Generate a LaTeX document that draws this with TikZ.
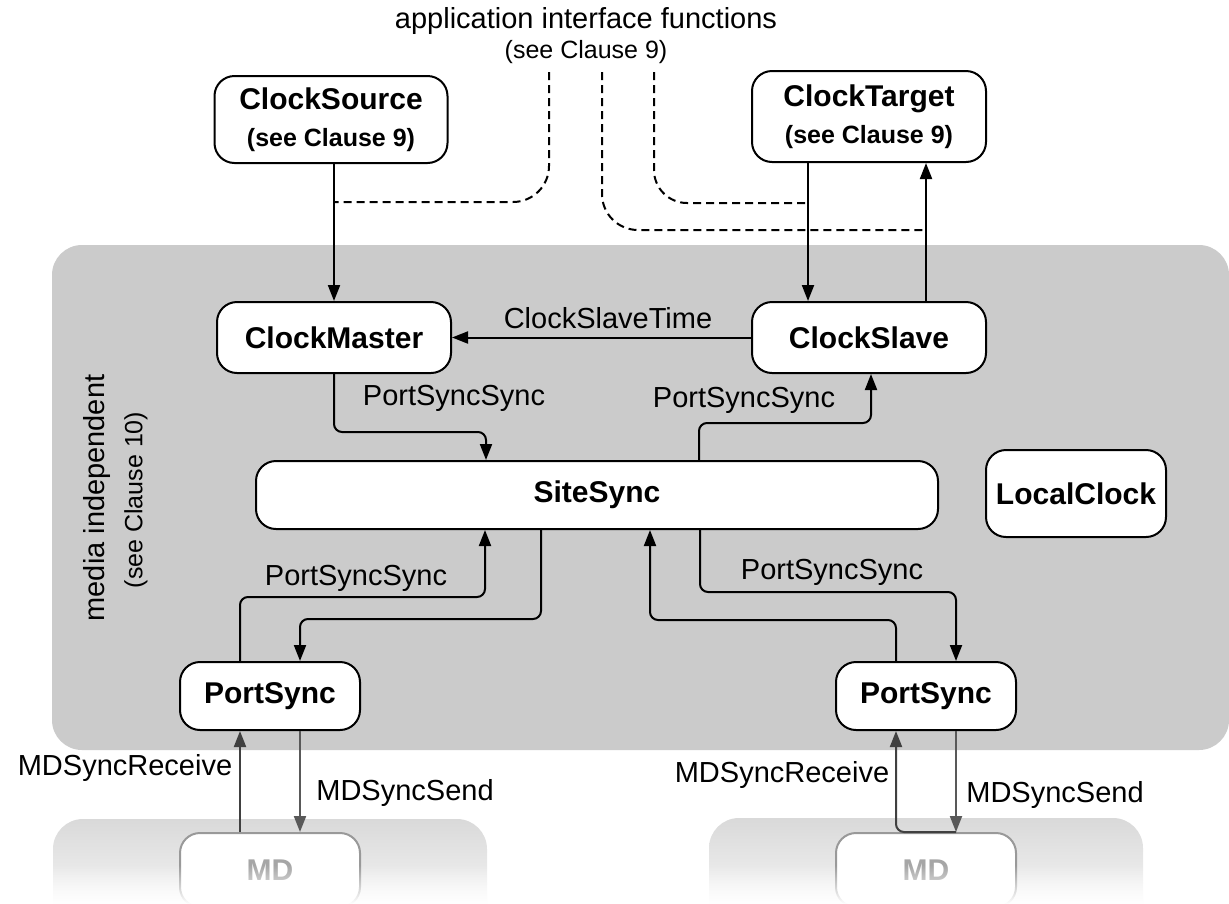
\documentclass[tikz,border=0pt]{standalone}
\usepackage{fontspec}
\setmainfont{Liberation Sans}
\usetikzlibrary{arrows.meta,fadings}
\definecolor{bggray}{RGB}{203,203,203}
\definecolor{mdgray}{RGB}{217,217,217}
\newcommand\fnorm{\fontsize{29}{34}\selectfont}
\newcommand\fsmall{\fontsize{25}{30}\selectfont}
\newcommand\fbold{\fontsize{30}{37}\selectfont\bfseries}
\newcommand\fsbold{\fontsize{25}{37}\selectfont\bfseries}
\tikzset{
  box/.style={draw=black, line width=2pt, fill=white, rounded corners=20pt,
    align=center, inner sep=0pt, font=\fbold},
  mdbox/.style={draw=black!40, line width=2pt, fill=white, rounded corners=20pt,
    inner sep=0pt, font=\fbold, text=black!35},
  tip/.style={-{Triangle[length=16pt,width=12pt]}},
  con/.style={line width=2pt, rounded corners=8pt, tip},
  mdcon/.style={line width=2pt, rounded corners=8pt, tip, draw=black!75},
  dashcon/.style={line width=2pt, dash pattern=on 8pt off 5pt, rounded corners=36pt},
  lbl/.style={font=\fnorm, inner sep=0pt},
}
\begin{document}
\begin{tikzpicture}[x=1pt,y=-1pt]
\useasboundingbox (0,0) rectangle (1229,903);
\clip (0,0) rectangle (1229,903);
% backgrounds
\fill[bggray, rounded corners=30pt] (52,245) rectangle (1229,750);
\shade[top color=mdgray, bottom color=white, rounded corners=30pt] (53,819) rectangle (487,940);
\shade[top color=mdgray, bottom color=white, rounded corners=30pt] (709,818) rectangle (1143,940);

% titles
\node[lbl] (title) at (586,21) {application interface functions};
\node[lbl, font=\fsmall] (title2) at (586,52) {(see Clause 9)};
\node[lbl, rotate=90] (mi) at (97,498) {media independent};
\node[lbl, rotate=90, font=\fsmall] (mi2) at (136,500) {(see Clause 10)};

% nodes
\node[box, minimum width=233pt, minimum height=87pt] (CS) at (331,119.5)
  {ClockSource\\{\fsbold (see Clause 9)}};
\node[box, minimum width=234pt, minimum height=91pt] (CT) at (869,116.5)
  {ClockTarget\\{\fsbold (see Clause 9)}};
\node[box, minimum width=234pt, minimum height=71pt] (CM) at (334,337.5) {ClockMaster};
\node[box, minimum width=234pt, minimum height=71pt] (CSl) at (869,337.5) {ClockSlave};
\node[box, minimum width=682pt, minimum height=68pt] (SS) at (597,495) {SiteSync};
\node[box, minimum width=180pt, minimum height=87pt] (LC) at (1076,493.5) {LocalClock};
\node[box, minimum width=180pt, minimum height=68pt] (PS1) at (270,696) {PortSync};
\node[box, minimum width=180pt, minimum height=68pt] (PS2) at (926,696) {PortSync};
\node[mdbox, minimum width=180pt, minimum height=74pt] (MD1) at (270,870) {MD};
\node[mdbox, minimum width=180pt, minimum height=74pt] (MD2) at (926,870) {MD};

% helper coordinates
\coordinate (xa) at (808,0);
\coordinate (xb) at (926,0);
\coordinate (k1) at (486,432);
\coordinate (k2) at (699,423);
\coordinate (k3) at (871,423);
\coordinate (k4) at (240,597);
\coordinate (k5) at (485,597);
\coordinate (k6) at (541,619);
\coordinate (k7) at (300,619);
\coordinate (k8) at (896,620);
\coordinate (k9) at (650,620);
\coordinate (k10) at (700,592);
\coordinate (k11) at (956,592);

% dashed application interface lines
\coordinate (d1) at (549,72);
\coordinate (d2) at (602,72);
\coordinate (d3) at (654,72);
\draw[dashcon] (d1) |- (CM.north |- 0,202);
\draw[dashcon] (d2) |- (xb |- 0,230);
\draw[dashcon, rounded corners=33pt] (d3) |- (xa |- 0,203);

% upper connectors
\draw[con] (CS.south -| CM.north) -- (CM.north);
\draw[con] (CT.south -| xa) -- (CSl.north -| xa);
\draw[con] (CSl.north -| xb) -- (CT.south -| xb);
\draw[con] (CSl.west) -- (CM.east);
\node[lbl] (l1) at (608,318) {ClockSlaveTime};
\draw[con] (CM.south) |- (k1) -- (SS.north -| k1);
\node[lbl] (l2) at (454,398) {PortSyncSync};
\draw[con] (SS.north -| k2) -- (k2) -- (k3) -- (CSl.south -| k3);
\node[lbl] (l3) at (744,400) {PortSyncSync};

% lower connectors
\draw[con] (PS1.north -| k4) -- (k4) -- (k5) -- (SS.south -| k5);
\node[lbl] (l4) at (356,578) {PortSyncSync};
\draw[con] (SS.south -| k6) -- (k6) -- (k7) -- (PS1.north -| k7);
\draw[con] (PS2.north -| k8) -- (k8) -- (k9) -- (SS.south -| k9);
\draw[con] (SS.south -| k10) -- (k10) -- (k11) -- (PS2.north -| k11);
\node[lbl] (l5) at (832,572) {PortSyncSync};

% MD connectors
\draw[mdcon] (MD1.north -| k4) -- (PS1.south -| k4);
\draw[mdcon, draw=black!65] (PS1.south -| k7) -- (MD1.north -| k7);
\draw[mdcon] (MD2.north -| k11) -| (PS2.south -| k8);
\draw[mdcon, draw=black!65] (PS2.south -| k11) -- (MD2.north -| k11);
\node[lbl] (l6) at (125,768) {MDSyncReceive};
\node[lbl] (l7) at (405,793) {MDSyncSend};
\node[lbl] (l8) at (782,775) {MDSyncReceive};
\node[lbl] (l9) at (1055,795) {MDSyncSend};

% fade-out at bottom
\fill[white, path fading=north] (0,865) rectangle (1229,904);
\end{tikzpicture}
\end{document}
